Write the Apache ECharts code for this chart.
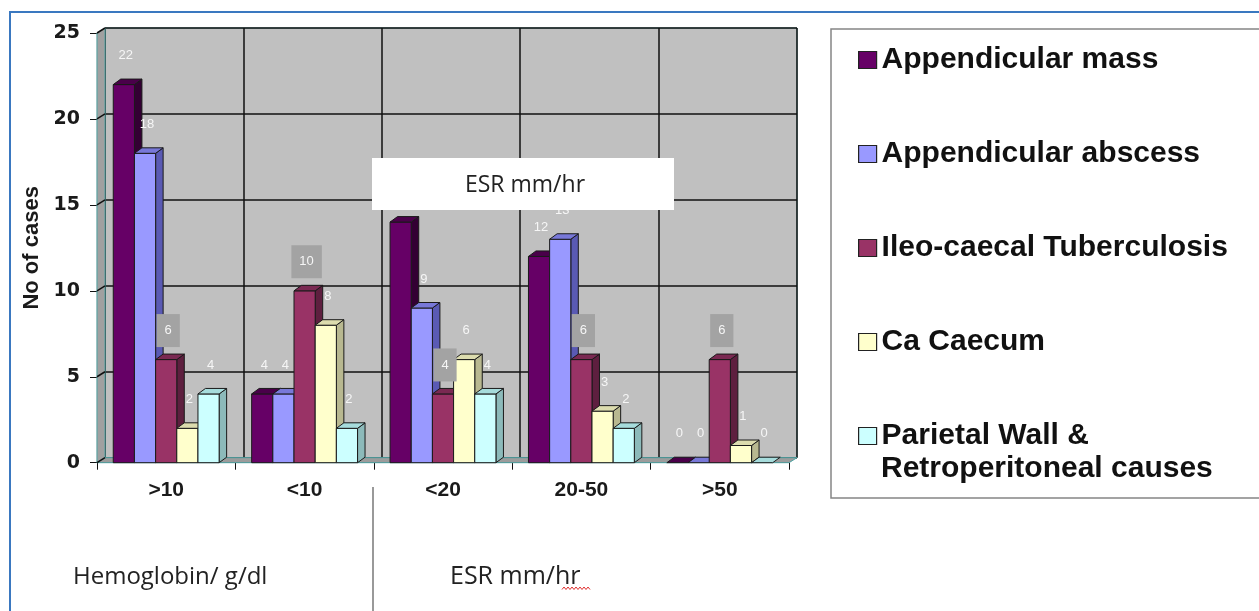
<!DOCTYPE html>
<html><head><meta charset="utf-8">
<script src="https://cdn.jsdelivr.net/npm/echarts@6/dist/echarts.min.js"></script>
<style>html,body{margin:0;padding:0;background:#fff}#c{width:1259px;height:611px}</style>
</head><body><div id="c"></div>
<script>
// ---- data ----
const categories = ['>10', '<10', '<20', '20-50', '>50'];
const seriesNames = ['Appendicular mass', 'Appendicular abscess', 'Ileo-caecal Tuberculosis', 'Ca Caecum', 'Parietal Wall &\nRetroperitoneal causes'];
const appendicularMass = [22, 4, 14, 12, 0];
const appendicularAbscess = [18, 4, 9, 13, 0];
const ileoCaecalTB = [6, 10, 4, 6, 6];
const caCaecum = [2, 8, 6, 3, 1];
const parietalWall = [4, 2, 4, 2, 0];
const yTicks = [0, 5, 10, 15, 20, 25];
const groupLabels = ['Hemoglobin/ g/dl', 'ESR mm/hr'];
const insideBoxLabel = 'ESR mm/hr';

const allValues = [appendicularMass, appendicularAbscess, ileoCaecalTB, caCaecum, parietalWall];
const palette = [
  { front: '#660066', side: '#330033', top: '#4a004a' },
  { front: '#9999ff', side: '#5a5ab4', top: '#7878d8' },
  { front: '#993366', side: '#5e1f3f', top: '#7a2952' },
  { front: '#ffffcc', side: '#b8b890', top: '#dcdcae' },
  { front: '#ccffff', side: '#8cbaba', top: '#a6dcdc' }
];
const WALL_DX = 8, WALL_DY = -5;
const BAR_DX = 7.5, BAR_DY = -5.5;

function barRender(k) {
  return function (params, api) {
    const ci = api.value(0), v = api.value(1);
    const base = api.coord([ci, 0]);
    const tp = api.coord([ci, v]);
    const cw = api.size([1, 0])[0];
    const bw = cw * 0.153;
    const x0 = base[0] - 2.5 * bw + k * bw;
    const y0 = base[1], y1 = tp[1];
    const c = palette[k];
    const children = [];
    if (y0 - y1 > 0.5) {
      children.push({ type: 'polygon', z2: k, shape: { points: [[x0 + bw, y1], [x0 + bw + BAR_DX, y1 + BAR_DY], [x0 + bw + BAR_DX, y0 + BAR_DY], [x0 + bw, y0]] }, style: { fill: c.side, stroke: '#1a1a1a', lineWidth: 1 } });
      children.push({ type: 'rect', z2: k, shape: { x: x0, y: y1, width: bw, height: y0 - y1 }, style: { fill: c.front, stroke: '#1a1a1a', lineWidth: 1 } });
    }
    children.push({ type: 'polygon', z2: k, shape: { points: [[x0, y1], [x0 + BAR_DX, y1 + BAR_DY], [x0 + bw + BAR_DX, y1 + BAR_DY], [x0 + bw, y1]] }, style: { fill: c.top, stroke: '#1a1a1a', lineWidth: 1 } });
    const boxed = k === 2;
    children.push({
      type: 'text', z2: 100,
      style: {
        text: String(v), x: x0 + bw / 2 + 2, y: y1 - 29,
        align: 'center', verticalAlign: 'middle',
        fill: '#f6f6f6', fontSize: 13, fontFamily: '"Liberation Sans", Arial',
        backgroundColor: boxed ? '#a3a3a3' : null,
        padding: boxed ? [8, 8, 12, 8] : 0
      }
    });
    return { type: 'group', children: children };
  };
}

function wallRender(params, api) {
  const t = api.value(1);
  const cw = api.size([1, 0])[0];
  const left = api.coord([0, t])[0] - cw / 2;
  const right = api.coord([categories.length - 1, t])[0] + cw / 2;
  const y = api.coord([0, t])[1];
  const children = [];
  if (params.dataIndex === 0) {
    const yTop = api.coord([0, yTicks[yTicks.length - 1]])[1];
    children.push({ type: 'polygon', shape: { points: [[left, y], [left + WALL_DX, y + WALL_DY], [left + WALL_DX, yTop + WALL_DY], [left, yTop]] }, style: { fill: '#a0a0a0', stroke: '#4fa3a3', lineWidth: 1 } });
    children.push({ type: 'polygon', shape: { points: [[left, y], [right, y], [right + WALL_DX, y + WALL_DY], [left + WALL_DX, y + WALL_DY]] }, style: { fill: '#9c9c9c', stroke: '#4fa3a3', lineWidth: 1 } });
  }
  children.push({ type: 'line', shape: { x1: left, y1: y, x2: left + WALL_DX, y2: y + WALL_DY }, style: { stroke: '#111', lineWidth: 1.5 } });
  return { type: 'group', children: children };
}

const series = [{
  type: 'custom', name: 'walls', xAxisIndex: 0, yAxisIndex: 0, z: 1, silent: true,
  renderItem: wallRender, data: yTicks.map(t => [0, t]), encode: { x: 0, y: 1 }
}];
allValues.forEach((vals, k) => {
  series.push({
    type: 'custom', name: seriesNames[k], xAxisIndex: 0, yAxisIndex: 0, z: 2,
    itemStyle: { color: palette[k].front, borderColor: '#222', borderWidth: 1 },
    renderItem: barRender(k), data: vals.map((v, i) => [i, v]), encode: { x: 0, y: 1 }
  });
});

// squiggle under "hr"
const squiggle = [];
for (let x = 562; x <= 590; x += 2) squiggle.push([x, (x / 2) % 2 === 0 ? 587 : 589.5]);

const lastName = seriesNames[seriesNames.length - 1];
const lastLines = lastName.split('\n');

const chart = echarts.init(document.getElementById('c'), null, { renderer: 'canvas' });
chart.setOption({
  animation: false,
  backgroundColor: '#ffffff',
  grid: [
    { left: 97, right: 470, top: 33, bottom: 148.3, outerBoundsMode: 'none', containLabel: false },
    { left: 97 + WALL_DX, right: 470 - WALL_DX, top: 33 + WALL_DY, bottom: 148.3 - WALL_DY, outerBoundsMode: 'none', containLabel: false,
      show: true, backgroundColor: '#c0c0c0', borderColor: '#4fa3a3', borderWidth: 1 }
  ],
  xAxis: [
    { type: 'category', gridIndex: 0, data: categories, boundaryGap: true,
      axisLine: { show: true, lineStyle: { color: '#111', width: 1 } },
      axisTick: { show: true, length: 7, inside: false, lineStyle: { color: '#111' } },
      axisLabel: { margin: 17, color: '#1a1a1a', fontSize: 21, fontWeight: 'bold', fontFamily: '"Liberation Sans", Arial' },
      splitLine: { show: false } },
    { type: 'category', gridIndex: 1, data: categories, boundaryGap: true,
      axisLine: { show: false }, axisTick: { show: false }, axisLabel: { show: false },
      splitLine: { show: true, lineStyle: { color: '#111', width: 1.5 } } }
  ],
  yAxis: [
    { type: 'value', gridIndex: 0, min: 0, max: 25, interval: 5,
      name: 'No of cases', nameLocation: 'middle', nameGap: 53, nameRotate: 90,
      nameTextStyle: { fontSize: 22, fontWeight: 'bold', color: '#1a1a1a', fontFamily: '"Liberation Sans", Arial' },
      axisLine: { show: true, lineStyle: { color: '#111', width: 1.2 } },
      axisTick: { show: true, length: 7, inside: false, lineStyle: { color: '#111' } },
      axisLabel: { margin: 17, color: '#1a1a1a', fontSize: 19, fontWeight: 'bold', fontFamily: '"DejaVu Sans"' },
      splitLine: { show: false } },
    { type: 'value', gridIndex: 1, min: 0, max: 25, interval: 5,
      axisLine: { show: false }, axisTick: { show: false }, axisLabel: { show: false },
      splitLine: { show: true, lineStyle: { color: '#111', width: 1.5 } } }
  ],
  legend: {
    orient: 'vertical', left: 858, top: 43, padding: 0, itemGap: 60,
    itemWidth: 18, itemHeight: 17, icon: 'rect', selectedMode: false,
    itemStyle: { borderColor: '#222', borderWidth: 1.2 },
    textStyle: { fontSize: 30, fontWeight: 'bold', color: '#111', fontFamily: '"Liberation Sans", Arial', lineHeight: 34 },
    formatter: function (name) { return name.split('\n')[0]; },
    data: seriesNames
  },
  graphic: [
    { type: 'rect', z: 0, shape: { x: 10, y: 12, width: 1300, height: 700 }, style: { fill: null, stroke: '#3a78c0', lineWidth: 2 } },
    { type: 'rect', z: 0, shape: { x: 831, y: 29, width: 460, height: 469 }, style: { fill: '#fff', stroke: '#858585', lineWidth: 1.5 } },
    { type: 'text', z: 5, style: { text: lastLines[1], x: 881, y: 469, align: 'left', verticalAlign: 'middle', fontSize: 30, fontWeight: 'bold', fontFamily: '"Liberation Sans", Arial', fill: '#111' } },
    { type: 'rect', z: 100, shape: { x: 372, y: 158, width: 302, height: 52 }, style: { fill: '#fff', stroke: null } },
    { type: 'text', z: 101, style: { text: insideBoxLabel, x: 525, y: 185, align: 'center', verticalAlign: 'middle', fontSize: 23, fontFamily: '"Open Sans"', fill: '#222' } },
    { type: 'line', z: 0, shape: { x1: 373, y1: 487, x2: 373, y2: 611 }, style: { stroke: '#777', lineWidth: 1.5 } },
    { type: 'text', z: 0, style: { text: groupLabels[0], x: 73, y: 577, align: 'left', verticalAlign: 'middle', fontSize: 24, fontFamily: '"Open Sans"', fill: '#222' } },
    { type: 'text', z: 0, style: { text: groupLabels[1], x: 450, y: 577, align: 'left', verticalAlign: 'middle', fontSize: 25, fontFamily: '"Open Sans"', fill: '#222' } },
    { type: 'polyline', z: 0, shape: { points: squiggle }, style: { stroke: '#e03030', lineWidth: 1, fill: null } }
  ],
  series: series
});
</script>
</body></html>
